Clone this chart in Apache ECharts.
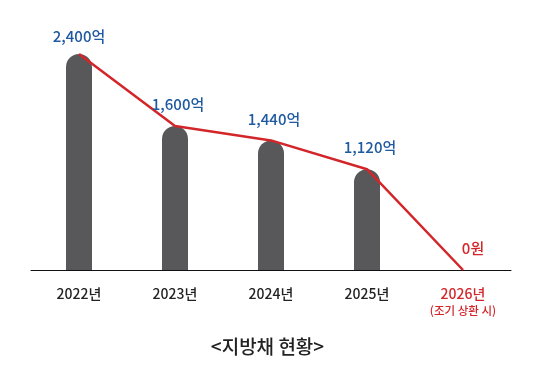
<!DOCTYPE html>
<html><head><meta charset="utf-8">
<script src="https://cdn.jsdelivr.net/npm/echarts@6/dist/echarts.min.js"></script>
<style>html,body{margin:0;padding:0;background:#fff}#c{width:535px;height:369px}</style>
</head><body><div id="c"></div>
<script>
const categories = ['2022년', '2023년', '2024년', '2025년', '2026년'];
const values = [2400, 1600, 1440, 1120, 0];
const valueLabels = ['2,400억', '1,600억', '1,440억', '1,120억', '0원'];
const subNote = '(조기 상환 시)';
const title = '<지방채 현황>';

const FONT = '"Noto Sans CJK KR", "Noto Sans", sans-serif';
const RED = '#d2262a';
const last = values.length - 1;
const chart = echarts.init(document.getElementById('c'));
chart.setOption({
  animation: false,
  textStyle: { fontFamily: FONT },
  title: {
    text: title, left: 'center', top: 332,
    textStyle: { fontFamily: FONT, fontSize: 19, fontWeight: 500, color: '#222' }
  },
  grid: { left: 31, width: 480, top: 45, height: 225 },
  xAxis: {
    type: 'category', data: categories,
    axisLine: { lineStyle: { color: '#111', width: 1 } },
    axisTick: { show: false },
    axisLabel: {
      interval: 0, margin: 15, fontFamily: FONT, fontSize: 14, fontWeight: 500, color: '#222', lineHeight: 18,
      formatter: (v, i) => i === last ? '{r|' + v + '}\n{s|' + subNote + '}' : v,
      rich: {
        r: { fontFamily: FONT, fontSize: 14, fontWeight: 500, color: RED, lineHeight: 18 },
        s: { fontFamily: FONT, fontSize: 11.5, fontWeight: 500, color: RED, lineHeight: 15 }
      }
    }
  },
  yAxis: { type: 'value', min: 0, max: 2500, show: false, splitLine: { show: false } },
  series: [
    {
      type: 'bar', data: values, barWidth: 26,
      itemStyle: { color: '#58585a', borderRadius: [13, 13, 0, 0] }
    },
    {
      type: 'line', symbol: 'circle', symbolSize: 0.1, showSymbol: true,
      itemStyle: { color: RED },
      lineStyle: { color: RED, width: 2.5 },
      data: values.map((v, i) => i === last
        ? { value: v, label: { color: RED, offset: [10, 0] } }
        : i === 0 ? { value: v, label: { offset: [0, 4] } }
        : { value: v, label: { offset: [3, 0] } }),
      label: {
        show: true, position: 'top', distance: 14,
        fontFamily: FONT, fontSize: 15, fontWeight: 500,
        formatter: p => valueLabels[p.dataIndex],
        color: '#1f5aa0'
      },
      z: 3
    }
  ]
});
</script></body></html>
